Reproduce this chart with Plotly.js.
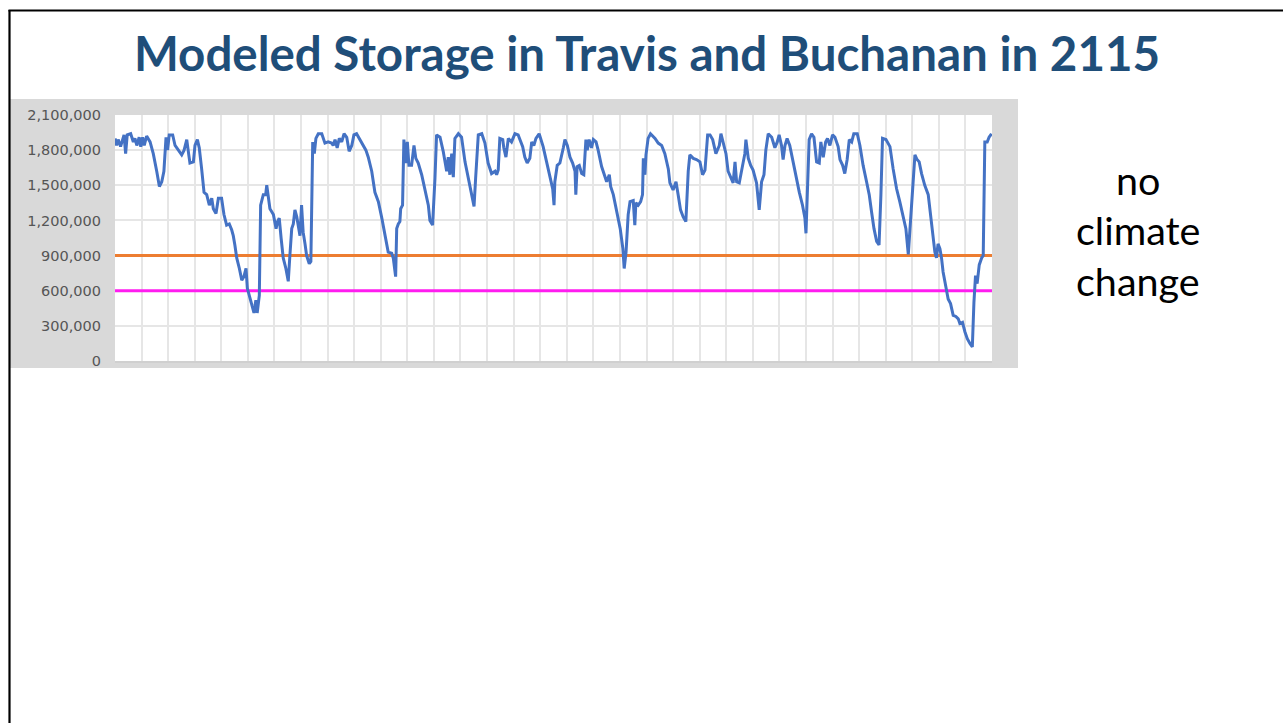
<!DOCTYPE html>
<html>
<head>
<meta charset="utf-8">
<script src="https://cdn.plot.ly/plotly-3.0.1.min.js"></script>
<style>
  html, body { margin: 0; padding: 0; background: #ffffff; overflow: hidden; }
  #chart { width: 1283px; height: 723px; }
</style>
</head>
<body>
<div id="chart"></div>
<script>
// ---- Data ----
const chartTitle = "Modeled Storage in Travis and Buchanan in 2115";
const sideNote = ["no", "climate", "change"];

// time in years from start of simulation
const years = [0.00,0.06,0.12,0.21,0.34,0.40,0.46,0.59,0.69,0.75,
0.82,0.91,0.97,1.04,1.10,1.19,1.32,1.44,1.57,1.67,
1.76,1.84,1.92,1.98,2.04,2.17,2.26,2.38,2.51,2.60,
2.70,2.77,2.82,2.95,3.01,3.10,3.17,3.26,3.35,3.45,
3.55,3.64,3.70,3.80,3.89,4.01,4.10,4.20,4.30,4.39,
4.45,4.51,4.58,4.68,4.77,4.85,4.93,4.98,5.08,5.18,
5.23,5.30,5.35,5.43,5.48,5.58,5.67,5.71,5.77,5.83,
5.96,6.06,6.12,6.18,6.25,6.33,6.43,6.52,6.58,6.65,
6.71,6.77,6.84,6.90,6.96,7.02,7.08,7.15,7.21,7.31,
7.37,7.44,7.50,7.56,7.65,7.78,7.90,8.02,8.15,8.21,
8.28,8.36,8.44,8.53,8.62,8.72,8.81,8.91,8.99,9.09,
9.22,9.34,9.44,9.53,9.66,9.78,9.91,10.04,10.16,10.28,
10.41,10.47,10.56,10.60,10.66,10.72,10.75,10.82,10.87,10.95,
11.00,11.06,11.16,11.25,11.32,11.41,11.54,11.66,11.79,11.85,
11.95,12.04,12.10,12.23,12.35,12.48,12.54,12.60,12.67,12.73,
12.79,12.92,13.04,13.17,13.29,13.42,13.51,13.57,13.67,13.80,
13.92,14.04,14.17,14.30,14.36,14.42,14.48,14.59,14.63,14.71,
14.80,14.92,15.05,15.17,15.26,15.34,15.42,15.51,15.61,15.68,
15.76,15.84,15.96,16.11,16.24,16.34,16.47,16.52,16.55,16.64,
16.74,16.87,16.93,17.02,17.12,17.22,17.31,17.34,17.39,17.47,
17.56,17.64,17.72,17.77,17.84,17.93,18.00,18.10,18.18,18.31,
18.43,18.50,18.60,18.65,18.75,18.88,19.01,19.11,19.16,19.23,
19.31,19.38,19.50,19.56,19.60,19.69,19.78,19.85,19.88,19.94,
19.98,20.06,20.15,20.32,20.44,20.57,20.69,20.82,20.88,21.00,
21.11,21.19,21.28,21.38,21.48,21.57,21.63,21.76,21.88,22.01,
22.11,22.20,22.30,22.39,22.49,22.61,22.74,22.80,22.89,22.99,
23.07,23.20,23.26,23.33,23.39,23.49,23.58,23.70,23.74,23.83,
23.92,24.01,24.14,24.24,24.33,24.42,24.49,24.58,24.71,24.83,
24.92,24.99,25.08,25.14,25.21,25.29,25.39,25.52,25.65,25.75,
25.87,25.96,26.00,26.06,26.12,26.21,26.30,26.40,26.50,26.56,
26.65,26.74,26.81,26.90,27.00,27.09,27.21,27.28,27.38,27.46,
27.55,27.63,27.72,27.80,27.93,28.03,28.15,28.28,28.38,28.47,
28.56,28.66,28.75,28.82,28.88,29.01,29.16,29.28,29.41,29.53,
29.66,29.76,29.85,29.94,30.01,30.10,30.18,30.26,30.35,30.47,
30.60,30.69,30.76,30.85,30.91,30.97,31.04,31.10,31.16,31.26,
31.35,31.44,31.54,31.64,31.73,31.79,31.89,31.98,32.07,32.17,
32.26,32.32,32.38,32.44,32.52,32.61,32.67,32.73,32.82,32.89,32.98];

// combined storage, acre-feet
const storage = [1900000,1840000,1890000,1830000,1930000,1770000,1930000,1940000,1870000,1900000,
1840000,1910000,1830000,1910000,1840000,1920000,1870000,1770000,1620000,1490000,
1530000,1620000,1910000,1800000,1930000,1930000,1840000,1800000,1760000,1800000,
1890000,1770000,1690000,1700000,1840000,1890000,1820000,1640000,1440000,1420000,
1330000,1390000,1300000,1260000,1390000,1390000,1250000,1160000,1170000,1120000,
1070000,990000,880000,790000,690000,720000,790000,620000,530000,450000,
410000,520000,410000,560000,1330000,1420000,1420000,1500000,1390000,1300000,
1250000,1130000,1190000,1220000,1050000,880000,790000,680000,900000,1130000,
1170000,1290000,1230000,1130000,1070000,1330000,1100000,1000000,900000,830000,
850000,1870000,1770000,1900000,1940000,1940000,1860000,1870000,1860000,1840000,
1890000,1820000,1900000,1870000,1940000,1910000,1790000,1840000,1930000,1940000,
1890000,1840000,1800000,1740000,1620000,1440000,1360000,1220000,1070000,930000,
920000,880000,720000,1130000,1170000,1190000,1300000,1330000,1890000,1690000,
1870000,1670000,1670000,1840000,1730000,1690000,1590000,1470000,1330000,1200000,
1160000,1560000,1930000,1910000,1790000,1620000,1740000,1590000,1770000,1570000,
1900000,1940000,1910000,1700000,1560000,1420000,1320000,1560000,1930000,1940000,
1860000,1690000,1600000,1620000,1590000,1630000,1900000,1890000,1820000,1740000,
1900000,1870000,1940000,1930000,1870000,1830000,1740000,1690000,1730000,1870000,
1840000,1900000,1940000,1830000,1700000,1600000,1470000,1330000,1530000,1670000,
1690000,1820000,1890000,1840000,1740000,1690000,1620000,1420000,1660000,1670000,
1600000,1590000,1890000,1800000,1890000,1820000,1890000,1870000,1800000,1660000,
1570000,1530000,1590000,1490000,1420000,1270000,1130000,960000,790000,930000,
1250000,1360000,1370000,1160000,1350000,1330000,1360000,1420000,1730000,1590000,
1760000,1900000,1940000,1900000,1860000,1840000,1770000,1640000,1520000,1460000,
1530000,1420000,1290000,1230000,1190000,1620000,1760000,1730000,1720000,1700000,
1590000,1630000,1930000,1930000,1890000,1770000,1840000,1940000,1870000,1770000,
1620000,1560000,1520000,1700000,1530000,1520000,1620000,1770000,1890000,1730000,
1670000,1630000,1520000,1290000,1530000,1590000,1800000,1940000,1910000,1820000,
1870000,1930000,1840000,1720000,1840000,1900000,1840000,1700000,1530000,1440000,
1330000,1220000,1090000,1420000,1890000,1940000,1910000,1700000,1690000,1870000,
1740000,1870000,1900000,1840000,1930000,1910000,1830000,1720000,1670000,1600000,
1720000,1890000,1870000,1940000,1940000,1840000,1670000,1530000,1420000,1270000,
1130000,1020000,990000,1420000,1900000,1890000,1830000,1640000,1470000,1360000,
1220000,1130000,910000,1190000,1420000,1760000,1720000,1700000,1600000,1500000,
1420000,1250000,1070000,930000,880000,1000000,960000,880000,760000,620000,
530000,490000,390000,380000,360000,320000,330000,250000,190000,150000,
120000,500000,730000,660000,820000,880000,900000,1870000,1870000,1910000,1940000];

// reference levels (acre-feet)
const upperLevel = 900000;
const lowerLevel = 600000;
const spanYears = [0, 33];

if (years.length !== storage.length) console.error("length mismatch", years.length, storage.length);

// ---- layout geometry helpers (pixel -> paper) ----
const W = 1283, H = 723;
const M = { l: 115, r: 291, t: 115, b: 362 };
const PW = W - M.l - M.r, PH = H - M.t - M.b;
const fx = px => (px - M.l) / PW;
const fy = py => (H - M.b - py) / PH;

const traces = [
  { x: spanYears, y: [lowerLevel, lowerLevel], mode: 'lines', name: '600,000',
    line: { color: '#FF1CF0', width: 3 }, hoverinfo: 'skip' },
  { x: spanYears, y: [upperLevel, upperLevel], mode: 'lines', name: '900,000',
    line: { color: '#ED7D31', width: 3 }, hoverinfo: 'skip' },
  { x: years, y: storage, mode: 'lines', name: 'Storage',
    line: { color: '#4472C4', width: 3 } }
];

const layout = {
  width: W, height: H,
  margin: M,
  paper_bgcolor: '#ffffff',
  plot_bgcolor: '#ffffff',
  showlegend: false,
  title: {
    text: chartTitle,
    font: { family: 'Lato, "Liberation Sans", sans-serif', size: 47.5, color: '#1F4E79', weight: 'bold' },
    xref: 'container', yref: 'container',
    x: 647 / W, xanchor: 'center',
    y: 1 - 54 / H, yanchor: 'middle'
  },
  xaxis: {
    range: spanYears,
    tick0: 0, dtick: 1,
    showticklabels: false,
    ticks: 'outside', ticklen: 5, tickcolor: '#d9d9d9', tickwidth: 1,
    showgrid: true, gridcolor: '#e6e6e6', gridwidth: 2,
    showline: true, linecolor: '#d0d0d0', linewidth: 1.5,
    zeroline: false, fixedrange: true
  },
  yaxis: {
    range: [0, 2100000],
    tick0: 0, dtick: 300000,
    tickformat: ',d',
    ticks: '',
    ticklabelstandoff: 13,
    tickfont: { family: '"DejaVu Sans", sans-serif', size: 14.5, color: '#555555' },
    showgrid: true, gridcolor: '#e6e6e6', gridwidth: 2,
    showline: false, zeroline: false, fixedrange: true
  },
  shapes: [
    // grey chart frame
    { type: 'rect', xref: 'paper', yref: 'paper', layer: 'below',
      x0: fx(10), x1: fx(1018), y0: fy(368), y1: fy(99),
      fillcolor: '#d9d9d9', line: { width: 0 } },
    // white plot area
    { type: 'rect', xref: 'paper', yref: 'paper', layer: 'below',
      x0: 0, x1: 1, y0: 0, y1: 1,
      fillcolor: '#ffffff', line: { width: 0 } },
    // slide outline (top and left edges visible)
    { type: 'line', xref: 'paper', yref: 'paper', layer: 'above',
      x0: fx(8.5), x1: fx(1290), y0: fy(10.5), y1: fy(10.5),
      line: { color: '#000000', width: 2.2 } },
    { type: 'line', xref: 'paper', yref: 'paper', layer: 'above',
      x0: fx(9.5), x1: fx(9.5), y0: fy(10), y1: fy(730),
      line: { color: '#000000', width: 2.2 } }
  ],
  annotations: sideNote.map((word, i) => ({
    text: word, showarrow: false,
    xref: 'paper', yref: 'paper',
    x: fx(1138), xanchor: 'center',
    y: fy(179 + i * 50.5), yanchor: 'middle',
    font: { family: 'Lato, "Liberation Sans", sans-serif', size: 39.5, color: '#000000' }
  }))
};

Plotly.newPlot('chart', traces, layout, { displayModeBar: false, staticPlot: true });
</script>
</body>
</html>
